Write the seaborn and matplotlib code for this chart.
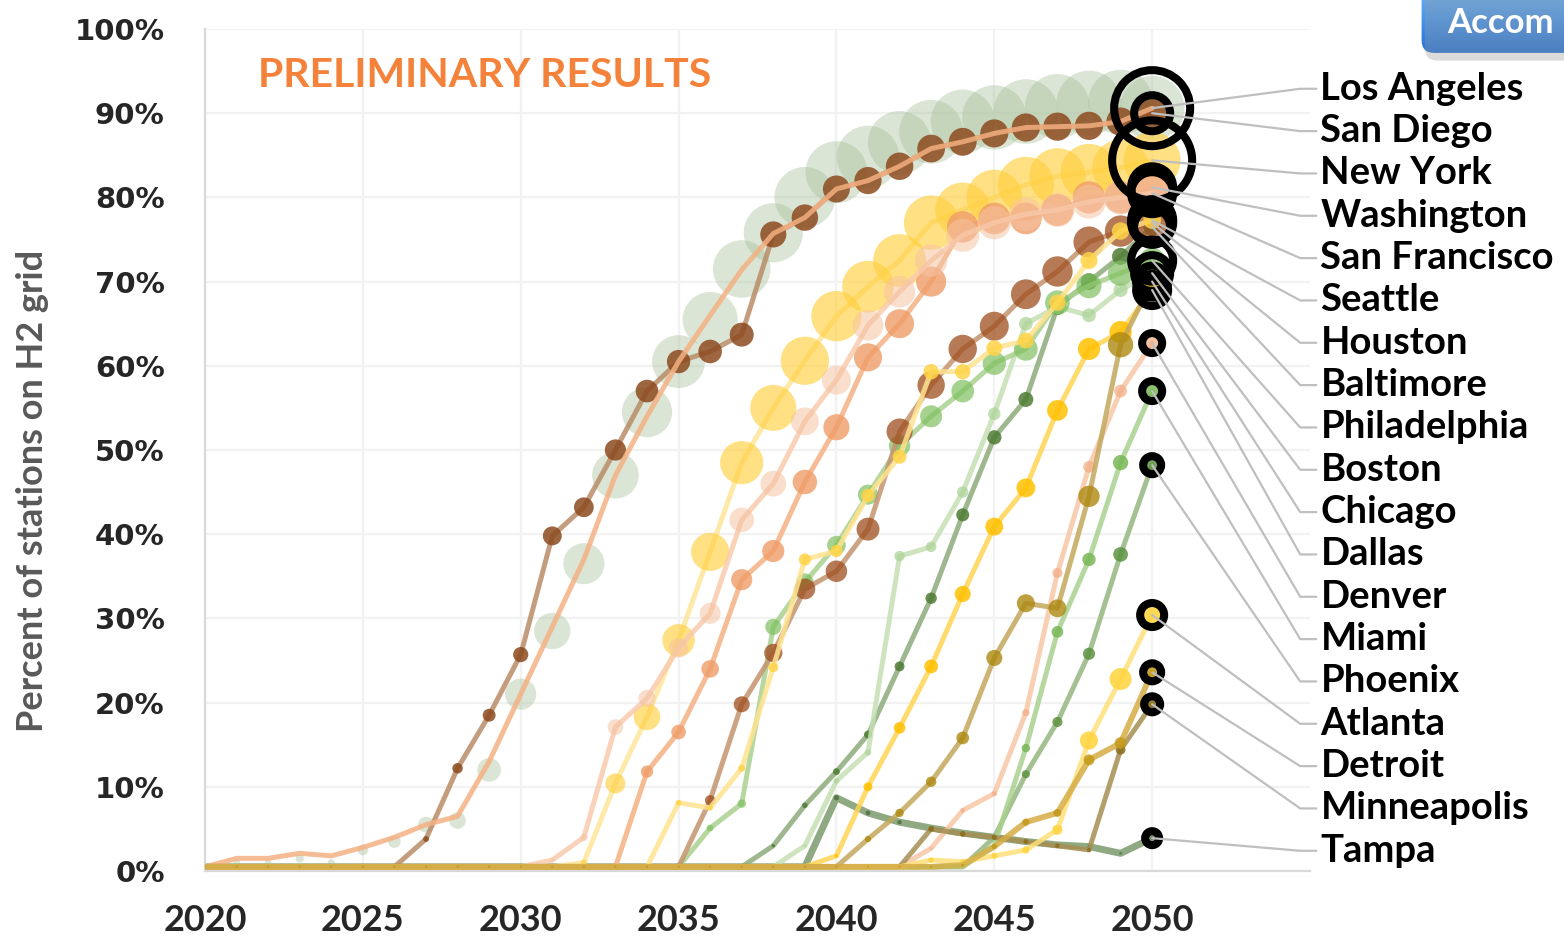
import matplotlib
matplotlib.use("Agg")
import matplotlib.pyplot as plt
from matplotlib.colors import LinearSegmentedColormap
from matplotlib.patches import FancyBboxPatch
import numpy as np
import pandas as pd
import seaborn as sns

years = list(range(2020, 2051))

cities = ["Los Angeles", "San Diego", "New York", "Washington", "San Francisco",
          "Seattle", "Houston", "Baltimore", "Philadelphia", "Boston", "Chicago",
          "Dallas", "Denver", "Miami", "Phoenix", "Atlanta", "Detroit",
          "Minneapolis", "Tampa"]

# percent of stations on H2 grid, 2020..2050
los_angeles = [0.5, 1.0, 1.0, 1.5, 1.0, 2.5, 3.5, 5.5, 6.0, 12.0,
               21.0, 28.5, 36.5, 47.0, 54.5, 60.5, 65.5, 71.5, 75.8, 80.0,
               83.0, 84.8, 86.5, 87.8, 89.0, 89.5, 90.2, 90.8, 91.2, 91.3, 90.6]
los_angeles_line = [0.5, 1.5, 1.5, 2.1, 1.8, 2.8, 4.0, 5.5, 6.5, 13.0,
                    21.0, 29.0, 37.0, 47.0, 54.0, 60.5, 66.0, 71.4, 75.7, 77.6,
                    81.0, 82.0, 83.7, 85.8, 86.6, 87.6, 88.3, 88.4, 88.5, 89.0, 90.6]
san_diego = [0.5] * 7 + [3.8, 12.2, 18.5,
             25.7, 39.8, 43.2, 50.0, 57.0, 60.5, 61.7, 63.7, 75.6, 77.6,
             81.0, 82.0, 83.7, 85.8, 86.6, 87.6, 88.3, 88.4, 88.5, 89.0, 90.0]
new_york = [0.5] * 12 + [1.0, 10.4, 18.3, 27.4, 37.9, 48.5, 55.0, 60.6,
            65.9, 69.4, 72.5, 77.0, 78.5, 80.0, 81.5, 82.5, 83.0, 83.5, 84.4]
washington = [0.5] * 14 + [11.8, 16.5, 24.0, 34.6, 38.0, 46.2,
              52.7, 61.0, 65.0, 70.0, 76.5, 77.5, 77.5, 78.5, 80.0, 80.0, 81.2]
san_francisco = [0.5] * 11 + [1.3, 4.0, 17.1, 20.5, 26.5, 30.6, 41.7, 46.0, 53.4,
                 58.3, 64.8, 68.8, 72.5, 75.5, 77.0, 78.0, 78.5, 79.5, 80.0, 80.5]
seattle = [0.5] * 15 + [8.1, 7.5, 12.2, 24.2, 37.0,
           38.0, 44.6, 49.2, 59.3, 59.3, 62.1, 63.0, 67.5, 72.5, 76.0, 77.3]
houston = [0.5] * 16 + [8.4, 19.8, 25.9, 33.5,
           35.6, 40.6, 52.2, 57.7, 62.0, 64.7, 68.5, 71.2, 74.7, 76.0, 77.0]
baltimore = [0.5] * 18 + [3.0, 7.8,
             11.8, 16.2, 24.3, 32.4, 42.3, 51.5, 56.0, 67.0, 70.0, 73.0, 76.5]
philadelphia = [0.5] * 16 + [5.1, 8.0, 29.0, 34.3,
                38.7, 44.7, 50.5, 54.0, 57.0, 60.3, 62.0, 67.5, 69.5, 71.0, 72.5]
boston = [0.5] * 19 + [3.0,
          10.7, 14.1, 37.4, 38.5, 45.0, 54.3, 65.0, 67.0, 66.0, 69.0, 71.0]
chicago = [0.5] * 21 + [3.8, 6.9, 10.6, 15.8, 25.3, 31.8, 31.2, 44.5, 62.5, 70.0]
dallas = [0.5] * 20 + [1.8, 10.0, 17.0, 24.3, 32.9, 40.9, 45.5, 54.7, 62.0, 64.0, 69.0]
denver = [0.5] * 23 + [2.7, 7.2, 9.2, 18.8, 35.4, 48.0, 57.0, 62.7]
miami = [0.5] * 25 + [3.0, 14.6, 28.4, 37.0, 48.5, 57.0]
phoenix = [0.5] * 25 + [4.0, 11.5, 17.7, 25.8, 37.6, 48.2]
atlanta = [0.5] * 23 + [1.3, 1.1, 1.8, 2.5, 4.9, 15.5, 22.8, 30.4]
detroit = [0.5] * 24 + [0.7, 2.9, 5.8, 6.9, 13.2, 15.2, 23.6]
minneapolis = [0.5] * 23 + [5.0, 4.4, 4.0, 3.5, 3.0, 2.5, 14.4, 19.8]
tampa = [0.5] * 20 + [8.7, 6.9, 5.8, 5.1, 4.5, 4.0, 3.5, 3.1, 2.9, 2.1, 3.9]

values = [los_angeles, san_diego, new_york, washington, san_francisco, seattle,
          houston, baltimore, philadelphia, boston, chicago, dallas, denver,
          miami, phoenix, atlanta, detroit, minneapolis, tampa]
line_values = {"Los Angeles": los_angeles_line}
series = dict(zip(cities, values))

# line colour, marker colour, marker alpha, bubble scale, 2050 ring radius (px), line width
styles = {
    "Los Angeles": ("#f4b183", "#a9c19b", 0.42, 3.4, 42, 3.6),
    "San Diego": ("#b98c68", "#8c4a1e", 0.85, 1.5, 22, 3.6),
    "New York": ("#ffe699", "#ffd040", 0.65, 3.1, 44, 3.6),
    "Washington": ("#f4b183", "#ef9d68", 0.8, 1.8, 25, 3.6),
    "San Francisco": ("#f8cbad", "#f6c3a3", 0.55, 1.9, 25, 3.6),
    "Seattle": ("#ffe38f", "#ffd447", 0.85, 1.0, 25, 3.6),
    "Houston": ("#c4946f", "#9e4d1d", 0.75, 1.8, 25, 3.6),
    "Baltimore": ("#8dab7b", "#4f7c34", 0.85, 1.0, 22, 3.6),
    "Philadelphia": ("#a9d18e", "#7fc05f", 0.7, 1.5, 25, 3.6),
    "Boston": ("#c5e0b4", "#aed49a", 0.75, 0.85, 22, 3.6),
    "Chicago": ("#c2a75c", "#ad8810", 0.8, 1.6, 20, 3.6),
    "Dallas": ("#ffd454", "#ffc000", 0.85, 1.4, 20, 3.6),
    "Denver": ("#f8c7a6", "#f2ac82", 0.7, 0.85, 14, 3.6),
    "Miami": ("#a9d18e", "#78b857", 0.85, 1.1, 14, 3.6),
    "Phoenix": ("#95b682", "#5e9442", 0.85, 1.2, 13, 3.6),
    "Atlanta": ("#ffe07a", "#ffd43b", 0.85, 2.3, 16, 3.6),
    "Detroit": ("#d6ad45", "#c29a18", 0.85, 1.5, 13, 4.2),
    "Minneapolis": ("#a68e52", "#8a6d1e", 0.85, 1.3, 12, 3.6),
    "Tampa": ("#7c9a6c", "#4e6e3e", 0.8, 0.9, 11, 5.0),
}

draw_order = ["Tampa", "Phoenix", "Miami", "Baltimore", "Boston", "Philadelphia",
              "Los Angeles", "San Diego", "New York", "Washington", "San Francisco",
              "Houston", "Denver", "Seattle", "Minneapolis", "Atlanta", "Dallas",
              "Chicago", "Detroit"]

sns.set_theme(style="white")
plt.rcParams["font.family"] = ["DejaVu Sans"]

W, H = 1564, 941
fig = plt.figure(figsize=(W / 100, H / 100), dpi=100)
ax = fig.add_axes([205 / W, 70 / H, 1105 / W, 842 / H])

for i, name in enumerate(draw_order):
    vals = series[name]
    lc, mc, ma, k, _, lw = styles[name]
    z = 2 + i * 0.1
    df = pd.DataFrame({"year": years, "pct": vals})
    line_df = pd.DataFrame({"year": years, "pct": line_values.get(name, vals)})
    size = (1.44 * k * np.sqrt(df["pct"].to_numpy())) ** 2
    sns.scatterplot(data=df, x="year", y="pct", color=mc, alpha=ma, s=size,
                    linewidth=0, legend=False, ax=ax, zorder=z + 0.05)
    line_z = z + 0.25 if name == "Los Angeles" else z
    sns.lineplot(data=line_df, x="year", y="pct", color=lc, linewidth=lw,
                 alpha=0.85, errorbar=None, legend=False, ax=ax, zorder=line_z)

# black rings around 2050 end points
finals = [v[-1] for v in values]
rings = [styles[c][4] for c in cities]
ring_s = [(2 * (r - 4) * 0.72) ** 2 for r in rings]
ax.scatter([2050] * len(cities), finals, s=ring_s, facecolors="none",
           edgecolors="black", linewidths=5.8, zorder=8, clip_on=False)

# leader lines and city labels
label_y = np.linspace(92.9, 2.4, len(cities))
for name, v, ly in zip(cities, finals, label_y):
    ax.plot([2050, 2054.69, 2055.2], [v, ly, ly], color="#bfbfbf", lw=1.6,
            clip_on=False, zorder=9)
    ax.text(2055.33, ly, name, fontsize=27.5, fontweight="bold", family="Lato",
            color="black", va="center", ha="left", clip_on=False)

ax.set_xlim(2020, 2055)
ax.set_ylim(0, 100)
ax.set_xticks(range(2020, 2051, 5))
ax.set_xticklabels([str(y) for y in range(2020, 2051, 5)], fontsize=26,
                   fontweight="bold", family="Lato")
ax.set_yticks(range(0, 101, 10))
ax.set_yticklabels([f"{v}%" for v in range(0, 101, 10)], fontsize=21,
                   fontweight="bold")
ax.tick_params(axis="both", length=9, width=1.5, color="#d9d9d9")
ax.tick_params(axis="y", pad=20)
ax.tick_params(axis="x", pad=15)
ax.grid(True, color="#f2f2f2", lw=1.6)
ax.set_axisbelow(True)
for side in ["top", "right"]:
    ax.spines[side].set_visible(False)
for side in ["left", "bottom"]:
    ax.spines[side].set_color("#d9d9d9")
    ax.spines[side].set_linewidth(1.6)
ax.set_xlabel("")
ax.set_ylabel("Percent of stations on H2 grid", fontsize=26, color="#595959",
              fontweight="bold", family="Lato")
ax.yaxis.set_label_coords(-0.141, 0.452)

ax.text(2021.68, 94.5, "PRELIMINARY RESULTS", fontsize=29.5, fontweight="bold",
        family="Lato", color="#f5823a", va="center", ha="left")

# blue button in the top right corner
bax = fig.add_axes([1420 / W, 1 - 62 / H, 160 / W, 70 / H])
bax.set_xlim(0, 1)
bax.set_ylim(0, 1)
bax.axis("off")
shadow = FancyBboxPatch((0.03, 0.02), 1.2, 1.0, boxstyle="round,pad=0,rounding_size=0.08",
                        mutation_aspect=160 / 70, facecolor="#9a9a9a", alpha=0.35,
                        edgecolor="none")
bax.add_patch(shadow)
button = FancyBboxPatch((0.01, 0.13), 1.2, 1.0, boxstyle="round,pad=0,rounding_size=0.08",
                        mutation_aspect=160 / 70, facecolor="none", edgecolor="none")
bax.add_patch(button)
grad = np.linspace(0, 1, 64).reshape(-1, 1)
blue = LinearSegmentedColormap.from_list("btn", ["#2270d8", "#4496ee", "#74b8f8"])
img = bax.imshow(grad, extent=(0, 1.3, 0.13, 1.13), cmap=blue, origin="lower",
                 aspect="auto")
img.set_clip_path(button)
bax.text(0.17, 0.56, "Accom", fontsize=25, fontweight="bold", family="Lato",
         color="white", va="center", ha="left")

fig.savefig("out.png", dpi=100)
